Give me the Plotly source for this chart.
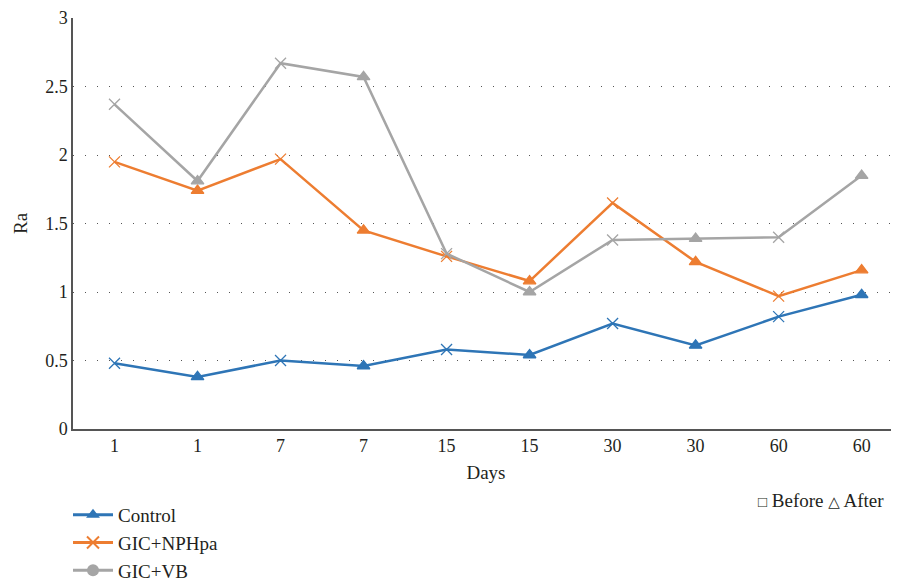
import plotly.graph_objects as go

days = ["1", "1", "7", "7", "15", "15", "30", "30", "60", "60"]
phase = ["Before", "After"] * 5
control = [0.48, 0.38, 0.50, 0.46, 0.58, 0.54, 0.77, 0.61, 0.82, 0.98]
nphpa = [1.95, 1.74, 1.97, 1.45, 1.26, 1.08, 1.65, 1.22, 0.97, 1.16]
vb = [2.37, 1.81, 2.67, 2.57, 1.28, 1.00, 1.38, 1.39, 1.40, 1.85]

series = [
    ("Control", control, "#2E75B6", "triangle-up"),
    ("GIC+NPHpa", nphpa, "#ED7D31", "x-thin"),
    ("GIC+VB", vb, "#A5A5A5", "circle"),
]

FONT = "Liberation Serif, DejaVu Serif, serif"
W, H = 891, 574
L, R, T, B = 65, 0, 10, 153
PW, PH = W - L - R, H - T - B


def px(fx):
    return (fx - L) / PW


def py(fy):
    return (H - B - fy) / PH


xs = list(range(len(days)))
fig = go.Figure()

for name, vals, col, legsym in series:
    syms = ["x-thin" if p == "Before" else "triangle-up" for p in phase]
    fig.add_trace(go.Scatter(
        x=xs, y=vals, mode="lines+markers", name=name, showlegend=False,
        line=dict(color=col, width=2.5),
        marker=dict(symbol=syms, size=11, color=col,
                    line=dict(color=col, width=1.3)),
    ))

for name, vals, col, legsym in series:
    fig.add_trace(go.Scatter(
        x=[None], y=[None], mode="lines+markers", name=name,
        line=dict(color=col, width=3),
        marker=dict(symbol=legsym, size=12, color=col,
                    line=dict(color=col, width=2 if legsym == "x-thin" else 0)),
    ))

fig.update_layout(
    width=W, height=H,
    margin=dict(l=L, r=R, t=T, b=B, autoexpand=False),
    paper_bgcolor="white", plot_bgcolor="white",
    font=dict(family=FONT, size=18, color="#231F20"),
    xaxis=dict(
        range=[-0.5, 9.45], tickmode="array", tickvals=xs, ticktext=days,
        showgrid=False, showline=True, linecolor="#555555", linewidth=1.5,
        ticks="", zeroline=False,
        title=dict(text="Days", standoff=10, font=dict(size=19, family=FONT)),
        tickfont=dict(size=18, family=FONT),
    ),
    yaxis=dict(
        range=[0, 3], dtick=0.5, showgrid=True, gridcolor="#555555",
        griddash="1px,11px", gridwidth=1.3, showline=True, linecolor="#555555",
        linewidth=1.5, zeroline=False, ticks="",
        tickfont=dict(size=18, family=FONT),
    ),
    legend=dict(
        xref="container", yref="container", x=60 / W, y=1 - 488 / H,
        xanchor="left", yanchor="top", orientation="v",
        font=dict(size=19, family=FONT), tracegroupgap=0, itemwidth=40,
        bgcolor="rgba(0,0,0,0)",
    ),
    showlegend=True,
)

fig.add_annotation(
    xref="paper", yref="paper", x=px(13), y=py(215),
    xanchor="center", yanchor="middle", textangle=-90,
    text="Ra", showarrow=False, font=dict(size=19, family=FONT),
)

fig.add_annotation(
    xref="paper", yref="paper", x=px(878), y=py(492),
    xanchor="right", yanchor="middle",
    text="<span style='font-size:15px'>□</span> Before <span style='font-size:15px'>△</span> After",
    showarrow=False, font=dict(size=19, family=FONT),
)

fig.write_html("out.html")
